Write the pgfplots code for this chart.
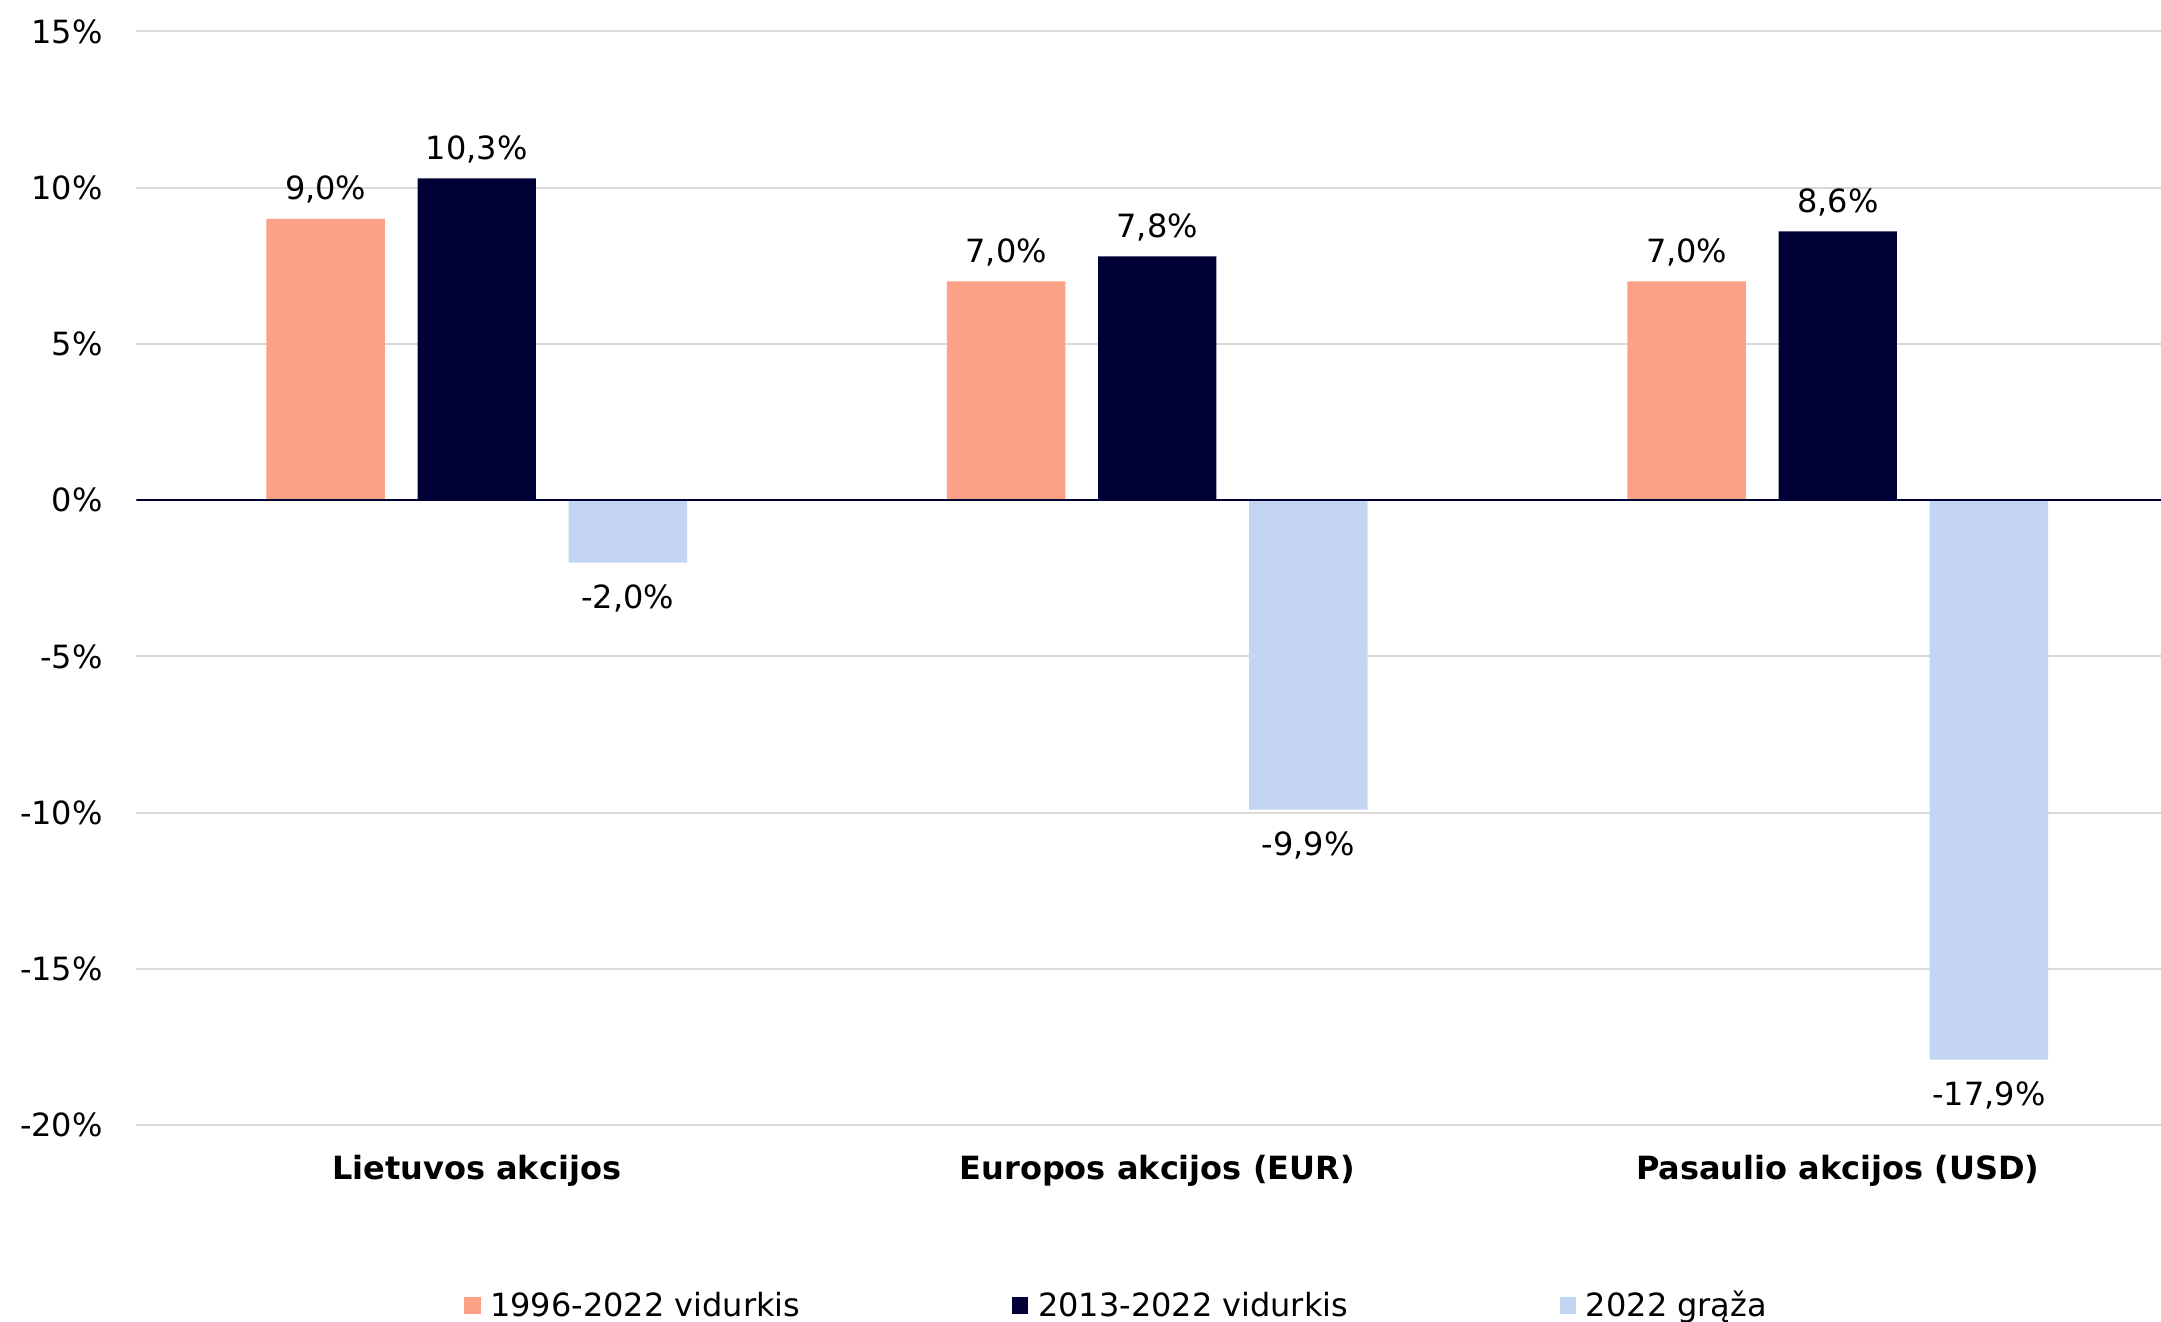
\documentclass[border=0pt]{standalone}
\usepackage{fontspec}
\setmainfont{DejaVu Sans}
\usepackage{pgfplots}
\pgfplotsset{compat=1.18}

\definecolor{barOrange}{HTML}{FCA086}
\definecolor{barNavy}{HTML}{000036}
\definecolor{barLight}{HTML}{C3D5F2}
\definecolor{gridGray}{HTML}{D9D9D9}

\newcommand{\chartfont}{\fontsize{16}{19}\selectfont}

\begin{document}
\begin{tikzpicture}
\begin{axis}[
  scale only axis,
  width=1012.4pt, height=547pt,
  xmin=-0.5, xmax=2.475,
  ymin=-20, ymax=15,
  ytick={-20,-15,...,15},
  yticklabels={-20\%,-15\%,-10\%,-5\%,0\%,5\%,10\%,15\%},
  xtick={0,1,2},
  xticklabels={Lietuvos akcijos, Europos akcijos (EUR), Pasaulio akcijos (USD)},
  axis line style={draw=none},
  major tick length=0pt,
  ymajorgrids,
  grid style={color=gridGray, line width=1pt},
  yticklabel style={font=\chartfont, anchor=east, inner sep=0pt, xshift=-16.7pt},
  xticklabel style={font=\chartfont\bfseries, anchor=base, inner sep=0pt, yshift=-27.3pt},
  ybar,
  bar width=0.174,
  point meta=y,
  nodes near coords={\pgfmathprintnumber[fixed,fixed zerofill,precision=1,use comma,assume math mode=true]{\pgfplotspointmeta}\%},
  every node near coord/.append style={font=\chartfont, text=black,
    text height=17.4pt, text depth=4pt, inner ysep=5.3pt, inner xsep=0pt},
  legend columns=3,
  legend cell align=left,
  legend style={at={(axis description cs:0,0)}, anchor=north west,
    xshift=163.75pt, yshift=-83.5pt, draw=none, fill=none,
    inner sep=0pt, outer sep=0pt,
    nodes={inner sep=0pt, font=\chartfont, text height=12pt, text depth=4pt},
    /tikz/every odd column/.append style={column sep=4.8pt},
    /tikz/every even column/.append style={column sep=0pt}},
]
\addplot[fill=barOrange, draw=none, bar shift=-0.222,
  legend image code/.code={\fill[barOrange] (0pt,-2.65pt) rectangle (8.3pt,5.65pt);}]
  coordinates {(0,9.0) (1,7.0) (2,7.0)};
\addlegendentry{\makebox[260.9pt][l]{1996-2022 vidurkis}}

\addplot[fill=barNavy, draw=none, bar shift=0,
  legend image code/.code={\fill[barNavy] (0pt,-2.65pt) rectangle (8.3pt,5.65pt);}]
  coordinates {(0,10.3) (1,7.8) (2,8.6)};
\addlegendentry{\makebox[260.9pt][l]{2013-2022 vidurkis}}

\addplot[fill=barLight, draw=none, bar shift=0.222,
  legend image code/.code={\fill[barLight] (0pt,-2.65pt) rectangle (8.3pt,5.65pt);}]
  coordinates {(0,-2.0) (1,-9.9) (2,-17.9)};
\addlegendentry{2022 grąža}

% zero line across the plot area
\draw[barNavy, line width=1.1pt] (axis cs:-0.5,0) -- (axis cs:2.475,0);

\coordinate (axsw) at (rel axis cs:0,0);
\coordinate (axne) at (rel axis cs:1,1);
\end{axis}
\pgfresetboundingbox
\path[use as bounding box] ([xshift=-68.25pt,yshift=-98.3pt]axsw) rectangle ([yshift=15.7pt]axne);
\end{tikzpicture}
\end{document}
